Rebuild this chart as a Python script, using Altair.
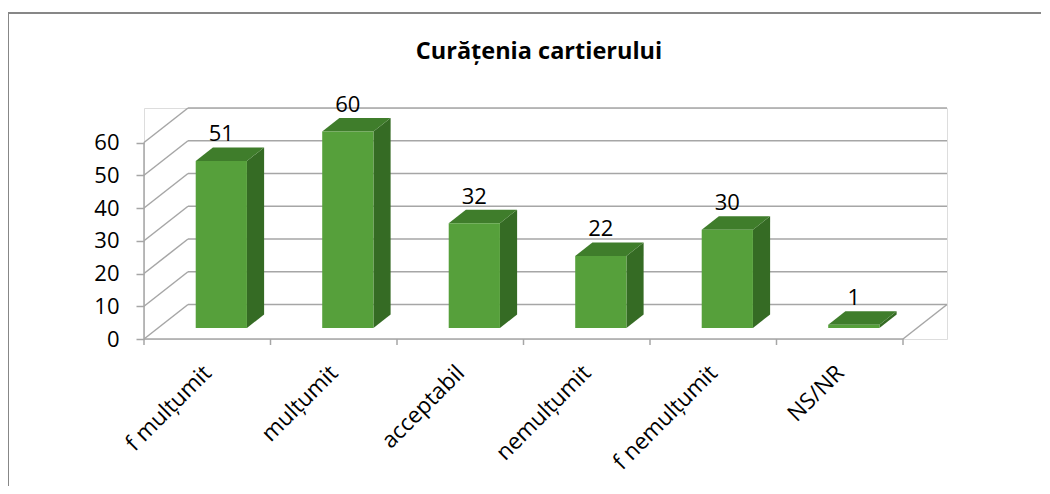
import json
import altair as alt
import pandas as pd

# ---- data ----
categories = ["f mulțumit", "mulțumit", "acceptabil", "nemulțumit", "f nemulțumit", "NS/NR"]
values = [51, 60, 32, 22, 30, 1]
y_ticks = [0, 10, 20, 30, 40, 50, 60]
title_text = "Curățenia cartierului"

# ---- 3D geometry (style) ----
PX_PER_UNIT = 3.272      # px per value unit
CAT_W = 126.5            # px per category
DX = 44 / CAT_W          # depth offset in category units
DY = 34.5 / PX_PER_UNIT  # depth offset in value units
F0, F1 = 0.32, 0.71      # bar depth front/back fractions
HW = 0.2025              # bar half width (category units)
N = len(categories)
XMAX = N + DX
YMAX = max(y_ticks) + DY
WIDTH = round(XMAX * CAT_W)
HEIGHT = round(YMAX * PX_PER_UNIT)

FONT = "Open Sans"
GRID = "#A6A6A6"
FRONT = "#56A03B"
TOP = "#3F7D2B"
SIDE = "#356B24"

xs = alt.Scale(domain=[0, XMAX], nice=False, zero=False)
ys = alt.Scale(domain=[0, YMAX], nice=False, zero=False)

label_expr = json.dumps(categories, ensure_ascii=False) + "[floor(datum.value)]"
x_axis = alt.Axis(values=[i + 0.5 for i in range(N)], labelExpr=label_expr, ticks=False, tickSize=0,
                  domain=False, grid=False, labelAngle=-45, labelAlign="right", labelBaseline="middle",
                  labelPadding=30, labelFontSize=22.5, labelFont=FONT, labelColor="#000000",
                  labelOverlap=False, labelBound=False, title=None)
y_axis = alt.Axis(values=y_ticks, tickSize=8, tickColor=GRID, tickWidth=1.5, domain=False, grid=False,
                  labelPadding=17, labelFontSize=22, labelFont=FONT, labelColor="#000000", title=None)

X = alt.X("x:Q", scale=xs, axis=x_axis)
Y = alt.Y("y:Q", scale=ys, axis=y_axis)

# ---- frame lines: back wall, left wall, floor, left axis, category ticks ----
rows = []
for t in y_ticks:
    rows.append(dict(x=DX, x2=N + DX, y=t + DY, y2=t + DY))
    rows.append(dict(x=0, x2=DX, y=t, y2=t + DY))
rows.append(dict(x=0, x2=N, y=0, y2=0))
rows.append(dict(x=N, x2=N + DX, y=0, y2=DY))
rows.append(dict(x=0, x2=0, y=0, y2=max(y_ticks)))
for k in range(N + 1):
    rows.append(dict(x=k, x2=k, y=0, y2=-6 / PX_PER_UNIT))
lines_df = pd.DataFrame(rows)

lines = alt.Chart(lines_df).mark_rule(color=GRID, strokeWidth=1.5).encode(
    x=X, x2="x2:Q", y=Y, y2="y2:Q")

# ---- bars ----
front_df = pd.DataFrame({
    "cat": categories,
    "x": [i + 0.5 - HW + F0 * DX for i in range(N)],
    "x2": [i + 0.5 + HW + F0 * DX for i in range(N)],
    "y": [F0 * DY] * N,
    "y2": [v + F0 * DY for v in values],
})
side_rows, top_rows = [], []
for i, (c, v) in enumerate(zip(categories, values)):
    for f in (F0, F1):
        side_rows.append(dict(cat=c, x=i + 0.5 + HW + f * DX, y=f * DY, y2=v + f * DY))
        top_rows.append(dict(cat=c, y=v + f * DY, x=i + 0.5 - HW + f * DX, x2=i + 0.5 + HW + f * DX))
side_df = pd.DataFrame(side_rows)
top_df = pd.DataFrame(top_rows)

side = alt.Chart(side_df).mark_area(orient="vertical", color=SIDE).encode(
    x=X, y=Y, y2="y2:Q", detail="cat:N")
top = alt.Chart(top_df).mark_area(orient="horizontal", color=TOP).encode(
    y=Y, x=X, x2="x2:Q", detail="cat:N")
front = alt.Chart(front_df).mark_rect(color=FRONT).encode(
    x=X, x2="x2:Q", y=Y, y2="y2:Q")

label_df = pd.DataFrame({
    "cat": categories,
    "val": values,
    "x": [i + 0.5 + F0 * DX for i in range(N)],
    "y": [v + F1 * DY for v in values],
})
labels = alt.Chart(label_df).mark_text(baseline="bottom", dy=-1, fontSize=22, font=FONT,
                                       color="#000000").encode(x=X, y=Y, text="val:Q")

title = alt.Chart(pd.DataFrame({"t": [title_text]})).mark_text(
    fontSize=23.5, fontWeight="bold", font=FONT, align="center", baseline="alphabetic",
    color="#000000").encode(text="t:N", x=alt.value(395), y=alt.value(-49))

border = alt.Chart(pd.DataFrame({"t": [0]})).mark_rect(
    filled=False, stroke="#878787", strokeWidth=2).encode(
    x=alt.value(-136), y=alt.value(-95), x2=alt.value(1100), y2=alt.value(600))

chart = alt.layer(border, lines, side, top, front, labels, title).properties(
    width=WIDTH, height=HEIGHT,
    autosize=alt.AutoSizeParams(type="none"),
    padding={"left": 136, "top": 100, "right": 94, "bottom": 147},
).configure_view(stroke=None).configure(background="#FFFFFF")

chart.save("out.html", embed_options={"renderer": "svg", "actions": False})
